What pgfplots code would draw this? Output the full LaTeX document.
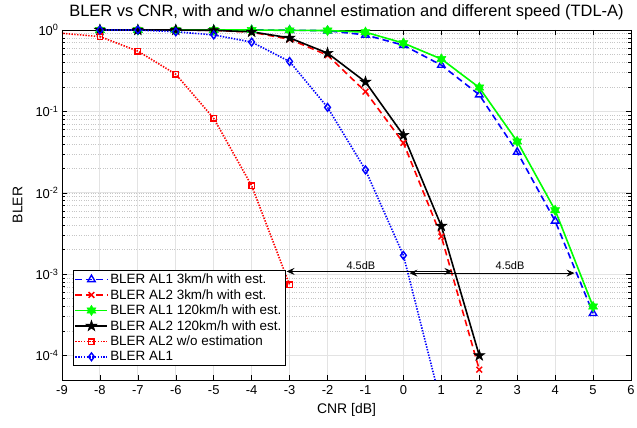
\documentclass[border=0pt]{standalone}
\usepackage{fontspec}
\setmainfont{Liberation Sans}
\usepackage{pgfplots}
\pgfplotsset{compat=1.18}
\usetikzlibrary{arrows.meta}

\pgfdeclareplotmark{pstar}{%
  \pgfpathmoveto{\pgfpointpolar{90}{\pgfplotmarksize}}%
  \pgfpathlineto{\pgfpointpolar{126}{0.382\pgfplotmarksize}}%
  \pgfpathlineto{\pgfpointpolar{162}{\pgfplotmarksize}}%
  \pgfpathlineto{\pgfpointpolar{198}{0.382\pgfplotmarksize}}%
  \pgfpathlineto{\pgfpointpolar{234}{\pgfplotmarksize}}%
  \pgfpathlineto{\pgfpointpolar{270}{0.382\pgfplotmarksize}}%
  \pgfpathlineto{\pgfpointpolar{306}{\pgfplotmarksize}}%
  \pgfpathlineto{\pgfpointpolar{342}{0.382\pgfplotmarksize}}%
  \pgfpathlineto{\pgfpointpolar{18}{\pgfplotmarksize}}%
  \pgfpathlineto{\pgfpointpolar{54}{0.382\pgfplotmarksize}}%
  \pgfpathclose
  \pgfusepathqfillstroke
}
\pgfdeclareplotmark{hstar}{%
  \pgfpathmoveto{\pgfpointpolar{90}{\pgfplotmarksize}}%
  \pgfpathlineto{\pgfpointpolar{120}{0.577\pgfplotmarksize}}%
  \pgfpathlineto{\pgfpointpolar{150}{\pgfplotmarksize}}%
  \pgfpathlineto{\pgfpointpolar{180}{0.577\pgfplotmarksize}}%
  \pgfpathlineto{\pgfpointpolar{210}{\pgfplotmarksize}}%
  \pgfpathlineto{\pgfpointpolar{240}{0.577\pgfplotmarksize}}%
  \pgfpathlineto{\pgfpointpolar{270}{\pgfplotmarksize}}%
  \pgfpathlineto{\pgfpointpolar{300}{0.577\pgfplotmarksize}}%
  \pgfpathlineto{\pgfpointpolar{330}{\pgfplotmarksize}}%
  \pgfpathlineto{\pgfpointpolar{0}{0.577\pgfplotmarksize}}%
  \pgfpathlineto{\pgfpointpolar{30}{\pgfplotmarksize}}%
  \pgfpathlineto{\pgfpointpolar{60}{0.577\pgfplotmarksize}}%
  \pgfpathclose
  \pgfusepathqfillstroke
}

\definecolor{mblue}{RGB}{0,0,255}
\definecolor{mred}{RGB}{255,0,0}
\definecolor{mgreen}{RGB}{0,255,0}

\begin{document}
\begin{tikzpicture}
\begin{axis}[name=ax, scale only axis, width=569bp, height=350bp,
  ymode=log, xmin=-9, xmax=6, ymin=5e-5, ymax=1,
  xtick={-9,-8,-7,-6,-5,-4,-3,-2,-1,0,1,2,3,4,5,6},
  xticklabels={-9,-8,-7,-6,-5,-4,-3,-2,-1,0,1,2,3,4,5,6},
  ytick={1e-4,1e-3,1e-2,1e-1,1},
  yticklabels={10\textsuperscript{-4},10\textsuperscript{-3},10\textsuperscript{-2},10\textsuperscript{-1},10\textsuperscript{0}},
  tick label style={font=\fontsize{13}{15}\selectfont},
  xticklabel style={yshift=-2bp},
  tick align=inside,
  major tick length=5bp, minor tick length=3bp,
  every tick/.style={black, line width=0.5bp},
  axis line style={black, line width=0.7bp},
  grid=both,
  major grid style={gray!22, line width=0.9bp},
  minor grid style={gray!45, dotted, line width=0.45bp},
  title={BLER vs CNR, with and w/o channel estimation and different speed (TDL-A)},
  title style={font=\fontsize{16.5}{18}\selectfont, at={(axis description cs:0.5,1)}, anchor=base, yshift=8bp},
  xlabel={CNR [dB]},
  xlabel style={font=\fontsize{14}{16}\selectfont, at={(axis description cs:0.5,-0.0857)}, anchor=center},
  ylabel={BLER},
  ylabel style={font=\fontsize{14}{16}\selectfont, at={(axis description cs:-0.078,0.5)}, anchor=center},
  legend style={at={(axis description cs:0.019,0.04)}, anchor=south west,
    font=\fontsize{13.5}{15}\selectfont, draw=black, fill=white, line width=0.7bp,
    inner sep=1.5bp, row sep=0.3bp, cells={anchor=west}},
  legend image code/.code={\draw[mark repeat=2,mark phase=2] plot coordinates {(0bp,0bp)(16bp,0bp)(32bp,0bp)};},
]
\addplot[mblue, line width=1.6bp, dash pattern=on 6.5bp off 4bp, mark=triangle, mark size=4.3bp, mark options={solid, line width=1.4bp}]
coordinates {(-8,1)(-7,1)(-6,1)(-5,1)(-4,1)(-3,0.995)(-2,0.98)(-1,0.87)(0,0.65)(1,0.37)(2,0.16)(3,0.0316)(4,0.0045)(5,0.00033)};
\addlegendentry{BLER AL1 3km/h with est.}
\addplot[mred, line width=1.6bp, dash pattern=on 6.5bp off 4bp, mark=x, mark size=4bp, mark options={solid, line width=1.5bp}]
coordinates {(-8,1)(-7,1)(-6,1)(-5,0.99)(-4,0.94)(-3,0.77)(-2,0.49)(-1,0.175)(0,0.041)(1,0.0029)(2,6.7e-5)};
\addlegendentry{BLER AL2 3km/h with est.}
\addplot[mgreen, line width=1.6bp, mark=hstar, mark size=5.2bp, mark options={solid, fill=mgreen, line width=0.5bp}]
coordinates {(-8,1)(-7,1)(-6,1)(-5,1)(-4,1)(-3,0.99)(-2,0.985)(-1,0.94)(0,0.69)(1,0.44)(2,0.196)(3,0.0427)(4,0.0061)(5,0.0004)};
\addlegendentry{BLER AL1 120km/h with est.}
\addplot[black, line width=1.6bp, mark=pstar, mark size=5.8bp, mark options={solid, fill=black, line width=0.5bp}]
coordinates {(-8,1)(-7,1)(-6,1)(-5,0.99)(-4,0.95)(-3,0.80)(-2,0.52)(-1,0.23)(0,0.051)(1,0.0039)(2,1.0e-4)};
\addlegendentry{BLER AL2 120km/h with est.}
\addplot[mred, line width=1.6bp, dash pattern=on 1.4bp off 1.4bp, mark=square, mark size=2.7bp, mark options={solid, line width=1.4bp}]
coordinates {(-8,0.83)(-7,0.55)(-6,0.286)(-5,0.082)(-4,0.0122)(-3,7.4e-4)};
\addlegendentry{BLER AL2 w/o estimation}
\addplot[mblue, line width=1.6bp, dash pattern=on 1.4bp off 1.4bp, mark=diamond, mark size=3.9bp, mark options={solid, line width=1.4bp}]
coordinates {(-8,1)(-7,1)(-6,0.95)(-5,0.87)(-4,0.71)(-3,0.41)(-2,0.112)(-1,0.0191)(0,0.0017)(1,2.5e-5)};
\addlegendentry{BLER AL1}
\addplot[mred, line width=1.6bp, dash pattern=on 1.4bp off 1.4bp, forget plot]
coordinates {(-10,1)(-8,0.83)};
\addplot[black, line width=0.7bp, {Stealth[length=8bp,width=7bp,inset=3bp]}-{Stealth[length=8bp,width=7bp,inset=3bp]}, forget plot]
coordinates {(-3.08,1.08e-3)(1.29,1.08e-3)};
\addplot[black, line width=0.7bp, {Stealth[length=8bp,width=7bp,inset=3bp]}-{Stealth[length=8bp,width=7bp,inset=3bp]}, forget plot]
coordinates {(0.16,1.03e-3)(4.51,1.03e-3)};
\node[font=\fontsize{11}{13}\selectfont, anchor=center] at (axis cs:-1.12,1.26e-3) {4.5dB};
\node[font=\fontsize{11}{13}\selectfont, anchor=center] at (axis cs:2.81,1.26e-3) {4.5dB};
\end{axis}
\pgfresetboundingbox
\path ([shift={(-62bp,-48bp)}]ax.south west) rectangle ([shift={(6bp,30bp)}]ax.north east);
\end{tikzpicture}
\end{document}
